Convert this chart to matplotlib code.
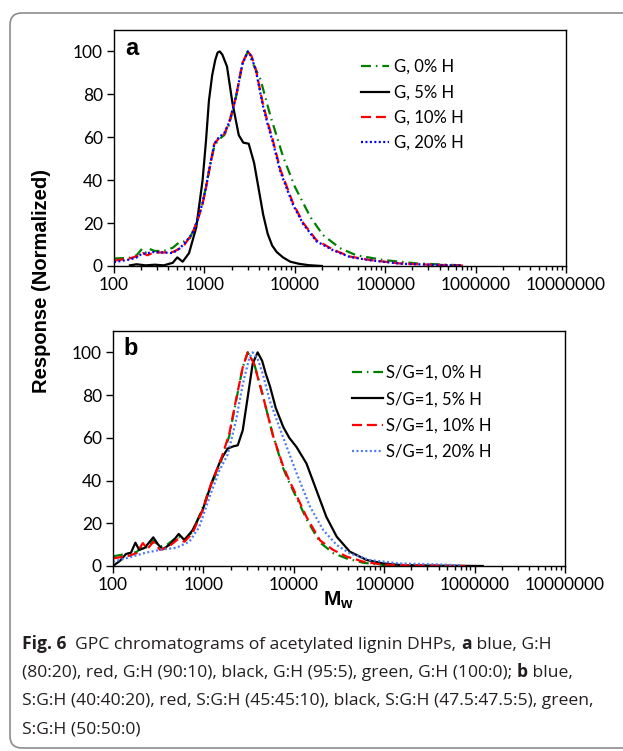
import matplotlib
matplotlib.use("Agg")
import matplotlib.pyplot as plt
from matplotlib.patches import FancyBboxPatch
from matplotlib.transforms import IdentityTransform
from matplotlib.ticker import LogLocator, NullFormatter

plt.rcParams['font.family'] = ['Lato', 'DejaVu Sans']
plt.rcParams['mathtext.fontset'] = 'custom'
plt.rcParams['mathtext.bf'] = 'Liberation Sans:bold'
plt.rcParams['mathtext.rm'] = 'Liberation Sans'

# ---- panel a : G series ----
mw_a_0 = [100, 148, 178, 204, 224, 245, 282, 355, 447, 525, 603, 692, 794, 955, 1135,
          1288, 1445, 1660, 1884, 2239, 2630, 3020, 3388, 4169, 5370, 7413, 10000,
          14791, 20417, 31623, 47863, 95499, 223872, 707946]
resp_a_0 = [3.5, 3.8, 5.0, 8.0, 6.2, 8.0, 7.0, 7.0, 8.5, 11.0, 11.5, 13.0, 19.0, 29.0, 45.0,
            56.0, 59.0, 61.0, 66.0, 79.0, 94.0, 100.0, 95.0, 87.0, 70.0, 51.0, 37.0,
            23.0, 14.5, 8.3, 5.0, 2.8, 1.2, 0.3]

mw_a_5 = [150, 178, 224, 282, 355, 447, 501, 575, 676, 813, 955, 1040, 1122, 1220, 1318,
          1400, 1479, 1580, 1778, 2042, 2399, 2692, 3090, 3388, 3548, 3981, 4467, 5012,
          5623, 6310, 7413, 8913, 11220, 14125, 19953]
resp_a_5 = [0.3, 0.8, 0.3, 0.6, 0.3, 1.5, 4.0, 2.0, 6.0, 18.0, 40.0, 58.0, 77.0, 89.0, 96.0,
            99.5, 100.0, 98.5, 93.0, 76.0, 61.0, 57.5, 57.0, 51.0, 48.0, 36.0, 24.0, 15.0,
            9.5, 6.5, 4.0, 2.0, 1.0, 0.4, 0.0]

mw_a_10 = [100, 148, 178, 209, 234, 275, 355, 447, 525, 603, 741, 851, 955, 1047, 1135,
           1288, 1445, 1660, 1884, 2239, 2630, 3020, 3311, 3715, 4416, 5012, 5689, 6918,
           9550, 12420, 17380, 26920, 40740, 67610, 144500, 316200, 724400]
resp_a_10 = [2.5, 3.5, 4.5, 6.0, 5.0, 6.3, 6.3, 6.5, 8.0, 10.0, 15.4, 22.0, 29.0, 37.0, 45.0,
             57.0, 59.5, 61.5, 67.0, 79.0, 94.5, 100.0, 98.0, 91.5, 76.0, 67.0, 59.0, 45.0,
             29.3, 20.0, 12.0, 7.5, 4.4, 2.8, 1.2, 0.6, 0.2]

mw_a_20 = [100, 148, 178, 200, 234, 275, 355, 447, 525, 603, 741, 851, 955, 1047, 1135,
           1288, 1445, 1660, 1884, 2239, 2630, 3020, 3311, 3715, 4416, 5012, 5689, 6918,
           9550, 12420, 17380, 26920, 40740, 67610, 144500, 316200, 724400]
resp_a_20 = [1.8, 3.0, 4.0, 5.5, 6.0, 6.5, 6.3, 6.0, 8.0, 10.5, 15.4, 22.0, 29.5, 37.5, 45.5,
             57.0, 60.0, 62.0, 67.0, 79.0, 94.0, 100.0, 97.5, 91.0, 75.0, 66.0, 58.0, 44.0,
             28.5, 19.5, 11.5, 7.2, 4.2, 2.7, 1.1, 0.6, 0.2]

# ---- panel b : S/G=1 series ----
mw_b_0 = [100, 126, 151, 182, 214, 240, 279, 331, 398, 525, 617, 759, 871, 977, 1216,
          1514, 1936, 2291, 2723, 3090, 3631, 4529, 5888, 7586, 8913, 10715, 13804,
          19498, 27353, 38459, 58884, 97724, 316228]
resp_b_0 = [4.5, 5.3, 6.0, 6.5, 9.5, 8.5, 12.0, 9.0, 10.0, 14.0, 12.5, 16.0, 22.0, 27.0, 38.0,
            47.0, 61.0, 77.0, 93.0, 100.0, 95.0, 80.0, 61.0, 46.0, 39.0, 32.0, 22.0,
            11.0, 6.0, 3.5, 1.5, 0.5, 0.0]

mw_b_5 = [100, 120, 139, 158, 177, 195, 224, 279, 316, 355, 437, 533, 617, 759, 977,
          1259, 1567, 1862, 2138, 2399, 2723, 3090, 3508, 3981, 4467, 4898, 5458, 6310,
          7656, 8913, 10715, 13804, 17783, 22909, 29854, 41687, 63973, 97724, 147911,
          316228, 1230269]
resp_b_5 = [0.0, 2.5, 5.6, 6.2, 10.9, 7.5, 8.5, 13.4, 10.0, 7.8, 10.4, 15.0, 12.1, 16.8, 26.0,
            40.0, 50.0, 55.0, 56.0, 56.5, 63.5, 79.0, 94.7, 100.0, 96.0, 90.0, 84.0, 74.0,
            65.0, 60.0, 55.7, 48.0, 35.5, 23.0, 13.7, 6.7, 2.8, 1.2, 0.5, 0.2, 0.0]

mw_b_10 = [100, 126, 151, 182, 214, 240, 279, 331, 398, 525, 617, 759, 977, 1216,
           1514, 1936, 2291, 2723, 3090, 3631, 4529, 5888, 7586, 8913, 10715, 13804,
           19498, 27353, 38459, 58884, 97724, 794328]
resp_b_10 = [3.5, 4.3, 4.8, 6.0, 10.7, 8.0, 11.3, 7.6, 8.5, 12.6, 11.4, 15.4, 26.0, 38.5,
             48.0, 62.0, 77.6, 93.0, 100.0, 94.7, 80.0, 61.0, 47.0, 40.0, 33.0, 23.0,
             12.0, 7.5, 4.4, 2.0, 0.6, 0.0]

mw_b_20 = [100, 151, 229, 355, 501, 700, 902, 1161, 1496, 1862, 2291, 2723, 3236, 3508,
           3981, 4529, 5458, 7656, 10715, 15136, 21184, 29854, 41687, 69183, 147911,
           346737, 724436]
resp_b_20 = [2.0, 4.0, 6.2, 7.8, 8.5, 11.4, 18.4, 32.0, 44.5, 52.3, 68.0, 85.0, 97.8, 100.0,
             97.0, 90.0, 77.0, 60.0, 43.5, 27.7, 16.8, 9.8, 5.9, 2.8, 1.2, 0.8, 0.3]

labels_a = ['G, 0% H', 'G, 5% H', 'G, 10% H', 'G, 20% H']
labels_b = ['S/G=1, 0% H', 'S/G=1, 5% H', 'S/G=1, 10% H', 'S/G=1, 20% H']
tick_vals = [100, 1000, 10000, 100000, 1000000, 10000000]

W, H = 623, 751
fig = plt.figure(figsize=(W / 100, H / 100), dpi=100)

# rounded frame (pixel coordinates, right side runs off the image)
frame = FancyBboxPatch((10, 3), 700, 735, boxstyle='round,pad=0,rounding_size=12',
                       transform=IdentityTransform(), facecolor='none', edgecolor='#8c8c8c', lw=1.2)
fig.patches.append(frame)

ax1 = fig.add_axes([114 / W, 1 - 266 / H, 452 / W, 236 / H])
ax2 = fig.add_axes([113 / W, 1 - 566 / H, 452 / W, 235 / H])

lw = 1.6
green_ls = (0, (4.5, 2.2, 0.7, 2.2))
red_ls = (0, (4.5, 2.2))
blue_ls = (0, (0.9, 1.1))

ax1.plot(mw_a_0, resp_a_0, color='#008000', lw=lw, ls=green_ls, label=labels_a[0])
ax1.plot(mw_a_5, resp_a_5, color='black', lw=lw, label=labels_a[1])
ax1.plot(mw_a_10, resp_a_10, color='#ff0000', lw=lw, ls=red_ls, label=labels_a[2])
ax1.plot(mw_a_20, resp_a_20, color='#0000ff', lw=lw, ls=blue_ls, label=labels_a[3])

ax2.plot(mw_b_0, resp_b_0, color='#008000', lw=lw, ls=green_ls, label=labels_b[0])
ax2.plot(mw_b_5, resp_b_5, color='black', lw=lw, label=labels_b[1])
ax2.plot(mw_b_10, resp_b_10, color='#ff0000', lw=lw, ls=red_ls, label=labels_b[2])
ax2.plot(mw_b_20, resp_b_20, color='#4a7cf0', lw=lw, ls=blue_ls, label=labels_b[3])

for ax in (ax1, ax2):
    ax.set_xscale('log')
    ax.set_xlim(100, 1e7)
    ax.set_ylim(0, 110)
    ax.set_yticks([0, 20, 40, 60, 80, 100])
    ax.set_xticks(tick_vals)
    ax.set_xticklabels([str(v) for v in tick_vals])
    ax.xaxis.set_minor_locator(LogLocator(base=10, subs=range(2, 10), numticks=20))
    ax.xaxis.set_minor_formatter(NullFormatter())
    ax.tick_params(which='major', direction='out', length=5, width=1, labelsize=12.5, pad=3)
    ax.tick_params(which='minor', direction='out', length=3, width=1)
    ax.tick_params(top=False, right=False)
    for s in ax.spines.values():
        s.set_linewidth(1)

ax1.legend(loc='upper left', bbox_to_anchor=(361 / W, 1 - 59 / H), bbox_transform=fig.transFigure,
           frameon=False, fontsize=12, handlelength=1.68, handletextpad=0.3, labelspacing=0.56,
           borderpad=0, borderaxespad=0)
ax2.legend(loc='upper left', bbox_to_anchor=(352 / W, 1 - 365 / H), bbox_transform=fig.transFigure,
           frameon=False, fontsize=12, handlelength=1.86, handletextpad=0.18, labelspacing=0.62,
           borderpad=0, borderaxespad=0)

ax1.text(0.024, 0.894, 'a', transform=ax1.transAxes, fontsize=17, fontweight='bold',
         family='Liberation Sans', va='baseline')
ax2.text(0.024, 0.898, 'b', transform=ax2.transAxes, fontsize=17, fontweight='bold',
         family='Liberation Sans', va='baseline')

fig.text(42 / W, 1 - 281 / H, 'Response (Normalized)', rotation=90, ha='center', va='center',
         fontsize=14.5, fontweight='bold', family='Liberation Sans')
fig.text(339 / W, 1 - 600 / H, r'$\mathbf{M}_\mathbf{w}$', ha='center', va='center', fontsize=15)

# caption with bold parts
renderer = fig.canvas.get_renderer()
cap_size = 12.6


def width_of(s, bold):
    w = 'bold' if bold else 'normal'
    t1 = fig.text(0, 0, s + 'x', fontsize=cap_size, fontweight=w, family='Open Sans')
    t2 = fig.text(0, 0, 'x', fontsize=cap_size, fontweight=w, family='Open Sans')
    d = t1.get_window_extent(renderer).width - t2.get_window_extent(renderer).width
    t1.remove()
    t2.remove()
    return d


cap_lines = [
    [('Fig. 6', True), ('  GPC chromatograms of acetylated lignin DHPs, ', False), ('a', True),
     (' blue, G:H', False)],
    [('(80:20), red, G:H (90:10), black, G:H (95:5), green, G:H (100:0); ', False), ('b', True),
     (' blue,', False)],
    [('S:G:H (40:40:20), red, S:G:H (45:45:10), black, S:G:H (47.5:47.5:5), green,', False)],
    [('S:G:H (50:50:0)', False)],
]
cap_y = [649, 677, 705, 733]
for parts, yy in zip(cap_lines, cap_y):
    x = 22.0
    for s, bold in parts:
        fig.text(x / W, 1 - yy / H, s, fontsize=cap_size, fontweight='bold' if bold else 'normal',
                 family='Open Sans', va='baseline', color='#231f20')
        x += width_of(s, bold)

fig.savefig('out.png', dpi=100)
